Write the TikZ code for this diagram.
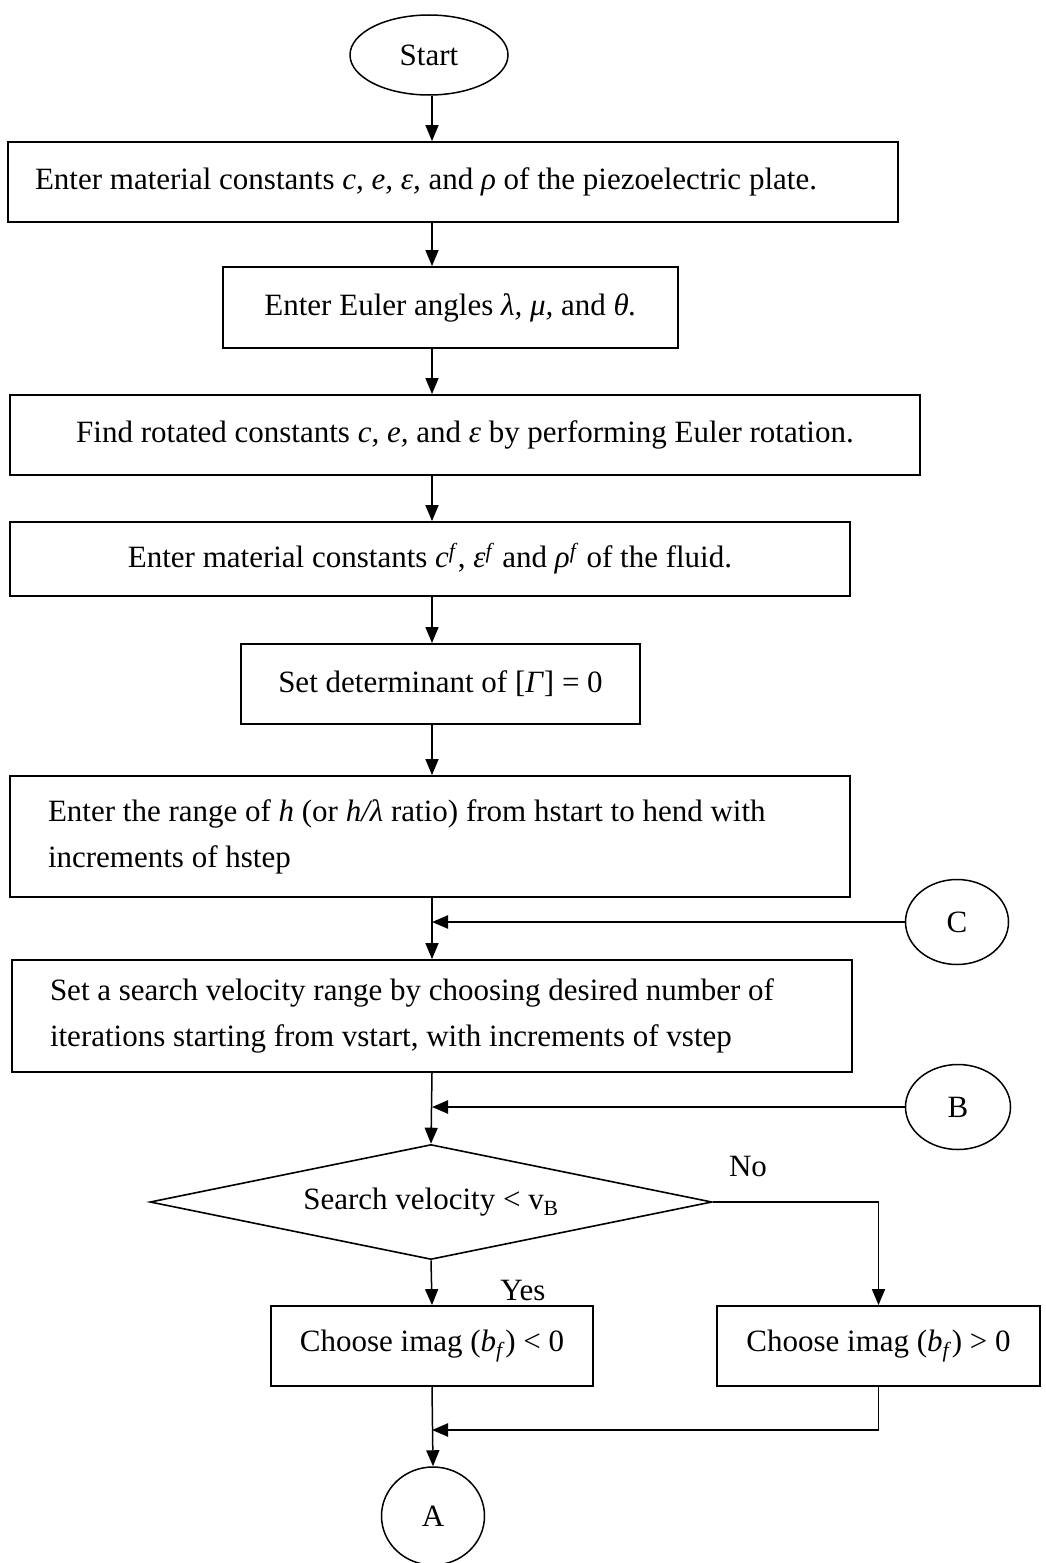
\documentclass[tikz,border=0pt]{standalone}
\usepackage{fontspec}
\setmainfont{Liberation Serif}
\usepackage{tikz}
\usetikzlibrary{arrows.meta,positioning,shapes.geometric}
\tikzset{
  procbox/.style={draw, line width=1.8pt, rectangle, inner sep=0pt, align=center},
  leftbox/.style={procbox, align=flush left},
  termnode/.style={draw, line width=1.5pt, ellipse, inner sep=0pt},
  decnode/.style={draw, line width=1.6pt, diamond, aspect=4.9, inner sep=0pt},
  flowln/.style={-{Triangle[length=16pt,width=13pt]}, line width=1.5pt},
  joinln/.style={-{Triangle[length=16pt,width=13pt]}, line width=2.4pt},
  plainln/.style={line width=1.5pt},
  lbl/.style={inner sep=0pt},
}

\begin{document}
\begin{tikzpicture}[x=1pt,y=-1pt,font=\fontsize{31}{46}\selectfont]
    \useasboundingbox (0,0) rectangle (1046,1563);
    \coordinate (col) at (432,0);
    % ----- set-up steps -----
    \node[termnode, minimum width=158, minimum height=80] (start) at (429,55) {Start};
    \node[leftbox, minimum width=890, minimum height=80, text width=836] (plate) at (453,182)
      {Enter material constants \textit{c, e, ε,} and \textit{ρ} of the piezoelectric plate.};
    \node[procbox, minimum width=455, minimum height=81] (euler) at (450.5,307.5)
      {Enter Euler angles \textit{λ, μ,} and \textit{θ.}};
    \node[procbox, minimum width=910, minimum height=80] (rotate) at (465,435)
      {Find rotated constants \textit{c, e,} and \textit{ε} by performing Euler rotation.};
    \node[procbox, minimum width=840, minimum height=74] (fluid) at (430,559)
      {Enter material constants \textit{c}\textsuperscript{\textit{f}}, \textit{ε}\textsuperscript{\textit{f}} and \textit{ρ}\textsuperscript{\textit{f}} of the fluid.};
    \node[procbox, minimum width=399, minimum height=80] (det) at (440.5,684)
      {Set determinant of [\textit{Γ}] = 0};
    \node[leftbox, minimum width=840, minimum height=121, text width=764] (range) at (430,836.5)
      {Enter the range of \textit{h} (or \textit{h/λ} ratio) from hstart to hend with\\increments of hstep};
    \node[leftbox, minimum width=840, minimum height=112, text width=764] (search) at (432,1016)
      {Set a search velocity range by choosing desired number of\\iterations starting from vstart, with increments of vstep};
    % ----- decision -----
    \node[decnode, minimum width=562, minimum height=115] (dec) at (431,1202)
      {Search velocity < v\textsubscript{B}};
    \node[procbox, minimum width=322, minimum height=80] (imagneg) at (432,1346)
      {Choose imag (\textit{b}\textsubscript{\textit{f}}) < 0};
    \node[procbox, minimum width=323, minimum height=80] (imagpos) at (878.5,1346)
      {Choose imag (\textit{b}\textsubscript{\textit{f}}) > 0};
    \node[lbl] (no) at (748,1166) {No};
    \node[lbl] (yes) at (523,1290) {Yes};
    % ----- connectors to other pages -----
    \node[termnode, minimum width=103, minimum height=85] (conC) at (957,922) {C};
    \node[termnode, minimum width=105, minimum height=85] (conB) at (958,1107) {B};
    \node[termnode, minimum width=103, minimum height=98] (conA) at (433,1516) {A};
    \coordinate (merge) at (432,1430);
    \coordinate (corner) at (imagpos.south |- merge);
    % ----- flow -----
    \draw[flowln] (col |- start.south) -- (col |- plate.north);
    \draw[flowln] (col |- plate.south) -- (col |- euler.north);
    \draw[flowln] (col |- euler.south) -- (col |- rotate.north);
    \draw[flowln] (col |- rotate.south) -- (col |- fluid.north);
    \draw[flowln] (col |- fluid.south) -- (col |- det.north);
    \draw[flowln] (col |- det.south) -- (col |- range.north);
    \draw[flowln] (col |- range.south) -- (col |- search.north);
    \draw[joinln] (conC.west) -- (col |- conC.west);
    \draw[flowln] (col |- search.south) -- (dec.north);
    \draw[joinln] (conB.west) -- (col |- conB.west);
    \draw[flowln] (dec.south) -- (col |- imagneg.north);
    \draw[flowln] (dec.east) -| (imagpos.north);
    \draw[flowln] (col |- imagneg.south) -- (conA.north);
    \draw[plainln] (imagpos.south) -- (corner);
    \draw[joinln] (corner) -- (merge);
\end{tikzpicture}
\end{document}
